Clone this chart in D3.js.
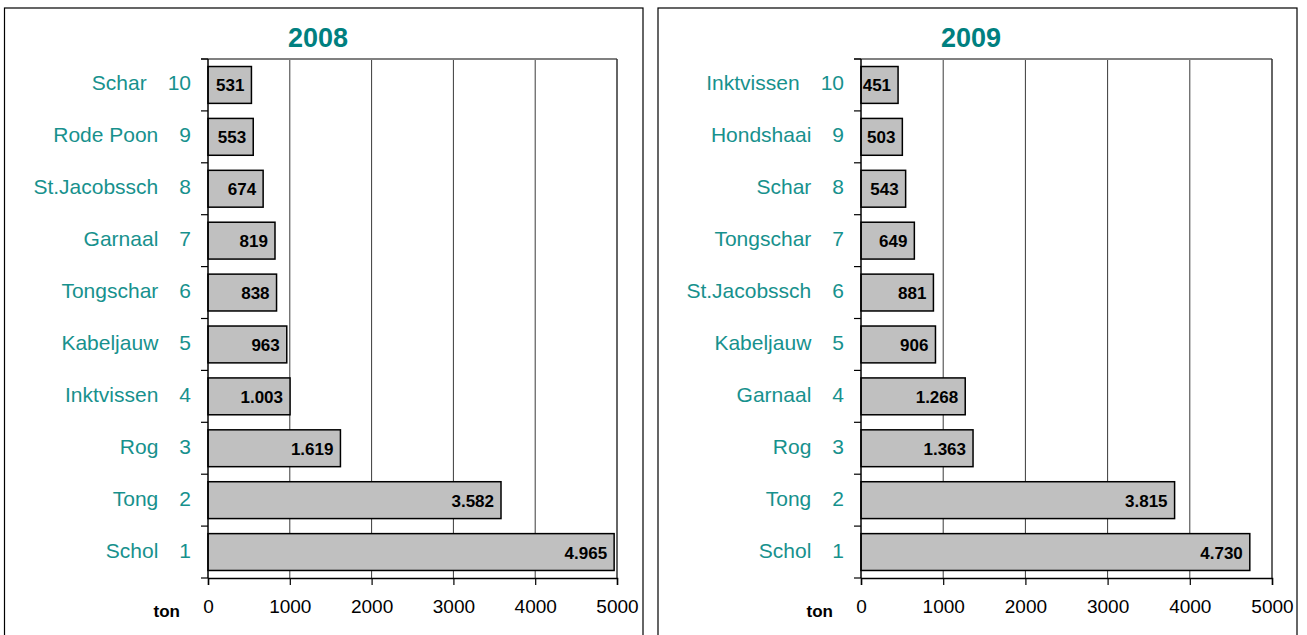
<!DOCTYPE html>
<html>
<head>
<meta charset="utf-8">
<script src="https://cdn.jsdelivr.net/npm/d3@7"></script>
<style>
  body { margin: 0; background: #fff; }
  svg { display: block; font-family: "Liberation Sans", Arial, sans-serif; }
</style>
</head>
<body>
<svg id="chart" width="1307" height="635"></svg>
<script>
// data, top of the list is rank 10
const fish2008 = ["Schar", "Rode Poon", "St.Jacobssch", "Garnaal", "Tongschar", "Kabeljauw", "Inktvissen", "Rog", "Tong", "Schol"];
const ton2008 = [531, 553, 674, 819, 838, 963, 1003, 1619, 3582, 4965];
const fish2009 = ["Inktvissen", "Hondshaai", "Schar", "Tongschar", "St.Jacobssch", "Kabeljauw", "Garnaal", "Rog", "Tong", "Schol"];
const ton2009 = [451, 503, 543, 649, 881, 906, 1268, 1363, 3815, 4730];
const ranks = [10, 9, 8, 7, 6, 5, 4, 3, 2, 1];
const xTicks = [0, 1000, 2000, 3000, 4000, 5000];

const teal = "#008080";
const labelTeal = "#17918d";

const svg = d3.select("#chart");

// thousands with a dot, like the original
const fmt = (v) => d3.format(",")(v).replace(/,/g, ".");

function drawPanel(opts) {
    const { left, right, plotLeft, plotRight, title, names, values } = opts;
    const top = 59, bottom = 578;

    // panel frame
    svg.append("rect")
        .attr("x", left).attr("y", 8)
        .attr("width", right - left).attr("height", 640)
        .attr("fill", "none").attr("stroke", "#000").attr("stroke-width", 1.2);

    const g = svg.append("g");

    const x = d3.scaleLinear().domain([0, 5000]).range([plotLeft, plotRight]);
    const y = d3.scaleBand().domain(d3.range(names.length)).range([top, bottom]).paddingInner(0.29).paddingOuter(0.145);
    const band = (bottom - top) / names.length;

    // grid lines
    g.selectAll(".grid")
        .data(xTicks.slice(1, -1))
        .enter().append("line")
        .attr("class", "grid")
        .attr("x1", d => x(d)).attr("x2", d => x(d))
        .attr("y1", top).attr("y2", bottom)
        .attr("stroke", "#3a3a3a").attr("stroke-width", 1);

    // plot border: grey top, dark right
    g.append("line")
        .attr("x1", plotLeft - 7).attr("x2", plotRight)
        .attr("y1", top).attr("y2", top)
        .attr("stroke", "#808080").attr("stroke-width", 1.8);
    g.append("line")
        .attr("x1", plotRight).attr("x2", plotRight)
        .attr("y1", top).attr("y2", bottom)
        .attr("stroke", "#333").attr("stroke-width", 1.5);

    // bars
    g.selectAll(".bar")
        .data(values)
        .enter().append("rect")
        .attr("class", "bar")
        .attr("x", x(0))
        .attr("y", (d, i) => y(i))
        .attr("width", d => x(d) - x(0))
        .attr("height", y.bandwidth())
        .attr("fill", "#c0c0c0")
        .attr("stroke", "#000")
        .attr("stroke-width", 1.5);

    g.selectAll(".val")
        .data(values)
        .enter().append("text")
        .attr("class", "val")
        .attr("x", d => x(d) - 7)
        .attr("y", (d, i) => y(i) + y.bandwidth() / 2 + 6.5)
        .attr("text-anchor", "end")
        .attr("font-size", 17)
        .attr("font-weight", "bold")
        .attr("fill", "#000")
        .text(d => fmt(d));

    // y axis with ticks between categories
    g.append("line")
        .attr("x1", plotLeft).attr("x2", plotLeft)
        .attr("y1", top).attr("y2", bottom)
        .attr("stroke", "#000").attr("stroke-width", 1.5);
    g.selectAll(".ytick")
        .data(d3.range(names.length + 1))
        .enter().append("line")
        .attr("class", "ytick")
        .attr("x1", plotLeft - 7).attr("x2", plotLeft)
        .attr("y1", d => top + d * band).attr("y2", d => top + d * band)
        .attr("stroke", "#000").attr("stroke-width", 1.2);

    // category labels: name + rank
    const lab = g.selectAll(".cat")
        .data(names)
        .enter().append("text")
        .attr("class", "cat")
        .attr("x", plotLeft - 17)
        .attr("y", (d, i) => y(i) + y.bandwidth() / 2 + 5.5)
        .attr("text-anchor", "end")
        .attr("font-size", 21)
        .attr("fill", labelTeal);
    lab.append("tspan").text(d => d);
    lab.append("tspan").attr("dx", 21).text((d, i) => ranks[i]);

    // x axis
    const xAxis = d3.axisBottom(x).tickValues(xTicks).tickSize(7).tickPadding(15).tickFormat(d3.format("d"));
    const ax = g.append("g")
        .attr("transform", "translate(0," + bottom + ")")
        .call(xAxis);
    ax.select(".domain").attr("stroke", "#000").attr("stroke-width", 1.5);
    ax.selectAll(".tick line").attr("stroke", "#000").attr("stroke-width", 1.2);
    ax.selectAll(".tick text")
        .attr("font-size", 19)
        .attr("font-family", "'Liberation Sans', Arial, sans-serif")
        .attr("fill", "#000");

    g.append("text")
        .attr("x", plotLeft - 28).attr("y", 617)
        .attr("text-anchor", "end")
        .attr("font-size", 17)
        .attr("font-weight", "bold")
        .text("ton");

    // title
    g.append("text")
        .attr("x", plotLeft + 110).attr("y", 47)
        .attr("text-anchor", "middle")
        .attr("font-size", 27)
        .attr("font-weight", "bold")
        .attr("fill", teal)
        .text(title);
}

drawPanel({ left: 4.5, right: 643, plotLeft: 208, plotRight: 617, title: "2008", names: fish2008, values: ton2008 });
drawPanel({ left: 658, right: 1297, plotLeft: 861, plotRight: 1272, title: "2009", names: fish2009, values: ton2009 });
</script>
</body>
</html>
